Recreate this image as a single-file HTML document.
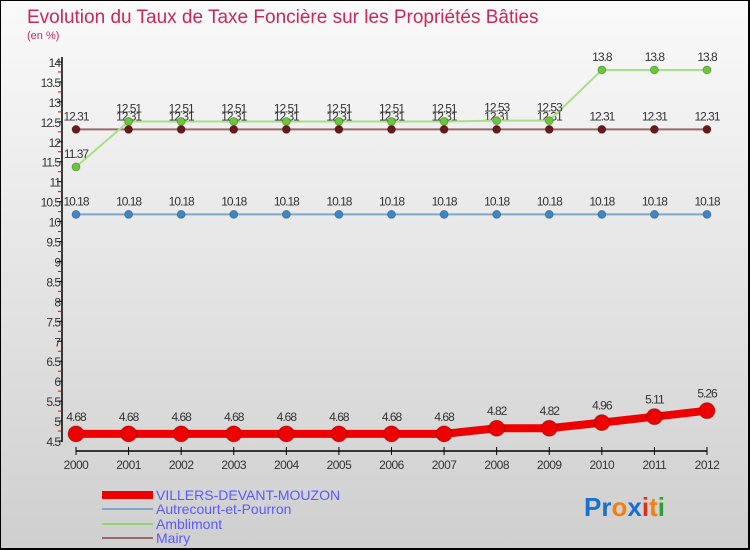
<!DOCTYPE html>
<html><head><meta charset="utf-8"><style>
body{margin:0;}
#c{width:750px;height:550px;position:relative;overflow:hidden;background:linear-gradient(#fafafa,#cfcfcf);box-sizing:border-box;border:1px solid #000;border-bottom:2px solid #000;border-right:2px solid #000;font-family:"Liberation Sans",sans-serif;}
svg text{font-family:"Liberation Sans",sans-serif;}
</style></head><body>
<div id="c">
<svg id="s" width="750" height="550">
<text x="26" y="22" font-size="19" fill="#c8285a">Evolution du Taux de Taxe Foncière sur les Propriétés Bâties</text>
<text x="26" y="38" font-size="11" fill="#c8285a">(en %)</text>
<g id="axes"></g><g id="series"></g>
<g>
<rect x="101" y="490" width="51" height="8" fill="#e00"/>
<text x="155" y="499" font-size="14" fill="#5a5aff">VILLERS-DEVANT-MOUZON</text>
<line x1="101" y1="508" x2="152" y2="508" stroke="#7fa8c8" stroke-width="2"/>
<text x="155" y="513" font-size="14" fill="#5a5aff">Autrecourt-et-Pourron</text>
<line x1="101" y1="523" x2="152" y2="523" stroke="#8fd870" stroke-width="2"/>
<text x="155" y="528" font-size="14" fill="#5a5aff">Amblimont</text>
<line x1="101" y1="537" x2="152" y2="537" stroke="#9a6a6a" stroke-width="2"/>
<text x="155" y="542" font-size="14" fill="#5a5aff">Mairy</text>
</g>
<g font-size="26" font-weight="bold">
<text x="583" y="515"><tspan fill="#1a6fd0">Pr</tspan><tspan fill="#f08010">o</tspan><tspan fill="#1a6fd0">x</tspan><tspan fill="#e03010">i</tspan><tspan fill="#f08010">t</tspan><tspan fill="#30a030">i</tspan></text>
</g>
</svg></div>
<script>
const years=[2000,2001,2002,2003,2004,2005,2006,2007,2008,2009,2010,2011,2012];
const villers=[4.68,4.68,4.68,4.68,4.68,4.68,4.68,4.68,4.82,4.82,4.96,5.11,5.26];
const autrecourt=[10.18,10.18,10.18,10.18,10.18,10.18,10.18,10.18,10.18,10.18,10.18,10.18,10.18];
const amblimont=[11.37,12.51,12.51,12.51,12.51,12.51,12.51,12.51,12.53,12.53,13.8,13.8,13.8];
const mairy=[12.31,12.31,12.31,12.31,12.31,12.31,12.31,12.31,12.31,12.31,12.31,12.31,12.31];
const yTicks=[4.5,5,5.5,6,6.5,7,7.5,8,8.5,9,9.5,10,10.5,11,11.5,12,12.5,13,13.5,14];
const NS="http://www.w3.org/2000/svg";
const X=i=>75+i*(706-75)/(years.length-1);
const Y=v=>440-(v-4.5)*(440-61)/9.5;
function mk(t,a,p){const e=document.createElementNS(NS,t);for(const k in a)e.setAttribute(k,a[k]);p.appendChild(e);return e;}
const ax=document.getElementById('axes'),sg=document.getElementById('series');
let l=mk('line',{x1:61,y1:56,x2:61,y2:441,stroke:'#000','stroke-width':1.5},ax);


l=mk('line',{x1:75,y1:450,x2:706,y2:450,stroke:'#000','stroke-width':1.5},ax);


yTicks.forEach((v,i)=>{
 const t=mk('line',{x1:56,y1:Y(v),x2:61,y2:Y(v),stroke:'#000'},ax);
 
 
 const tx=mk('text',{x:59,y:Y(v)+5,'text-anchor':'end','font-size':12,fill:'#333','letter-spacing':'-1'},ax);
 tx.textContent=v;
 
 
 if(i<yTicks.length-1){const m=mk('line',{x1:57,y1:Y(v+0.25),x2:61,y2:Y(v+0.25),stroke:'#e00'},ax);
 
 }
});
years.forEach((y,i)=>{
 const t=mk('line',{x1:X(i),y1:446,x2:X(i),y2:454,stroke:'#000'},ax);
 
 
 const tx=mk('text',{x:X(i),y:468,'text-anchor':'middle','font-size':12,fill:'#333','letter-spacing':'-0.5'},ax);
 tx.textContent=y;
 
 
});
function series(vals,name,col,dot,w,r,off){
 const g=mk('g',{},sg);
 
 
 const p=mk('polyline',{points:vals.map((v,i)=>X(i)+','+Y(v)).join(' '),fill:'none',stroke:col,'stroke-width':w},g);
 
 
 vals.forEach((v,i)=>{
  const c=mk('circle',{cx:X(i),cy:Y(v),r:r,fill:dot,stroke:'rgba(0,0,0,0.25)'},g);
  
  
  const t=mk('text',{x:X(i),y:Y(v)-off,'text-anchor':'middle','font-size':12,fill:'#333','letter-spacing':'-1'},g);
  t.textContent=v;
  
  
 });
}
series(autrecourt,'autrecourt','#7fa8c8','#3a88c8',2,4,9);
series(mairy,'mairy','#9a6a6a','#6a1818',2,4,9);
series(amblimont,'amblimont','#a8e088','#6ac838',2,4,9);
series(villers,'villers','#e00','#e00',8,8,13);
</script>
</body></html>
